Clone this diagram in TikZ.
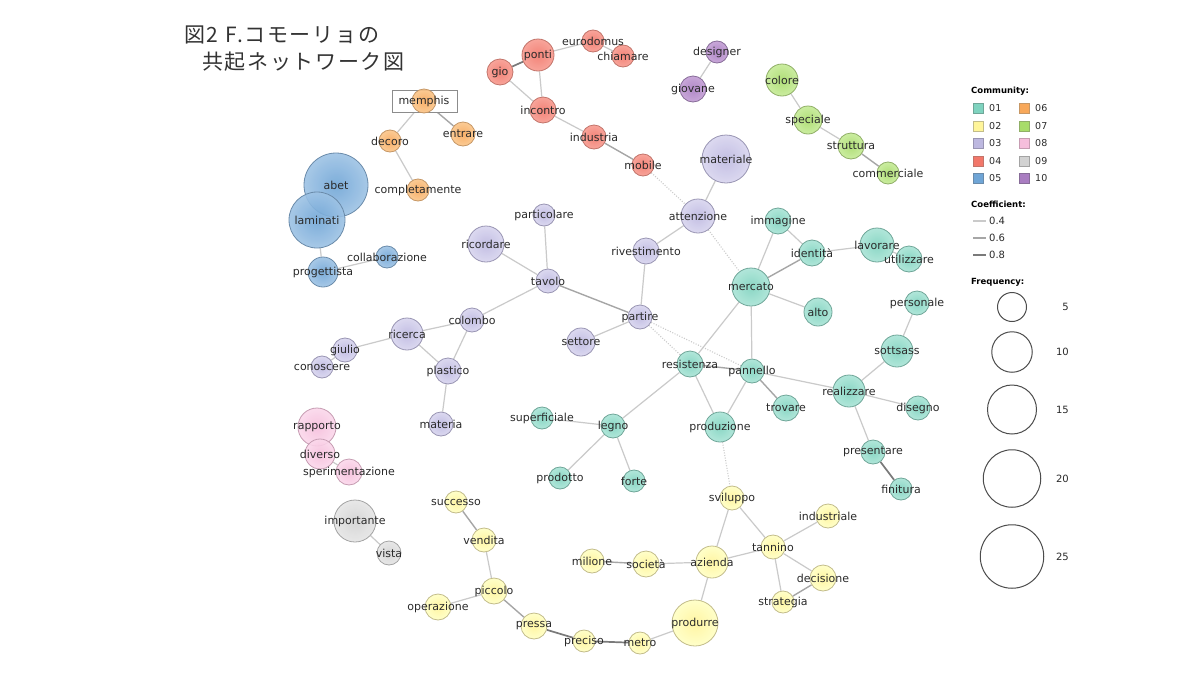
\documentclass[tikz,border=0pt]{standalone}
\usepackage{fontspec}
\setmainfont{DejaVu Sans}
\newfontfamily\jpfont{Noto Sans CJK JP}
\pgfdeclarelayer{bg}
\pgfdeclarelayer{fg}
\pgfsetlayers{bg,main,fg}
% community colours: inner, outer, border
\definecolor{i1}{HTML}{7FD3BF}\definecolor{o1}{HTML}{A9E4D6}\definecolor{b1}{HTML}{6FA698}
\definecolor{i2}{HTML}{FFF59A}\definecolor{o2}{HTML}{FFFFC4}\definecolor{b2}{HTML}{C2BC8A}
\definecolor{i3}{HTML}{BDB8E0}\definecolor{o3}{HTML}{D8D5EF}\definecolor{b3}{HTML}{9995B3}
\definecolor{i4}{HTML}{F2776A}\definecolor{o4}{HTML}{F89B90}\definecolor{b4}{HTML}{C2746A}
\definecolor{i5}{HTML}{6FA5D6}\definecolor{o5}{HTML}{9EC3E5}\definecolor{b5}{HTML}{6A8BAA}
\definecolor{i6}{HTML}{F8A85A}\definecolor{o6}{HTML}{FBC68A}\definecolor{b6}{HTML}{C69765}
\definecolor{i7}{HTML}{A8DC6A}\definecolor{o7}{HTML}{C6EB97}\definecolor{b7}{HTML}{90AF67}
\definecolor{i8}{HTML}{F6BEDC}\definecolor{o8}{HTML}{FBD8EB}\definecolor{b8}{HTML}{C69CB2}
\definecolor{i9}{HTML}{D2D2D2}\definecolor{o9}{HTML}{E6E6E6}\definecolor{b9}{HTML}{A3A3A3}
\definecolor{i10}{HTML}{A97DC1}\definecolor{o10}{HTML}{C39ED5}\definecolor{b10}{HTML}{876C98}
\definecolor{txt}{HTML}{2A2A2A}
\definecolor{ea}{HTML}{CACACA}
\definecolor{eb}{HTML}{A6A6A6}
\definecolor{ec}{HTML}{7A7A7A}
\tikzset{
  cn/.style={circle, inner sep=0pt, line width=0.8pt, fill opacity=0.9},
  c1/.style={draw=b1, inner color=i1, outer color=o1},
  c2/.style={draw=b2, inner color=i2, outer color=o2},
  c3/.style={draw=b3, inner color=i3, outer color=o3},
  c4/.style={draw=b4, inner color=i4, outer color=o4},
  c5/.style={draw=b5, inner color=i5, outer color=o5},
  c6/.style={draw=b6, inner color=i6, outer color=o6},
  c7/.style={draw=b7, inner color=i7, outer color=o7},
  c8/.style={draw=b8, inner color=i8, outer color=o8},
  c9/.style={draw=b9, inner color=i9, outer color=o9},
  c10/.style={draw=b10, inner color=i10, outer color=o10},
  lbl/.style={font=\fontsize{11}{12}\selectfont, text=txt, inner sep=0pt},
  e1/.style={draw=ea, line width=1.2pt},
  e2/.style={draw=eb, line width=1.4pt},
  e3/.style={draw=ec, line width=1.7pt},
  ed/.style={draw=ea, line width=1.1pt, dash pattern=on 1pt off 1.6pt},
  sq/.style={rectangle, minimum size=10pt, inner sep=0pt, line width=0.8pt},
  legtxt/.style={font=\fontsize{9.5}{11}\selectfont, text=txt, anchor=west, inner sep=0pt},
  leghead/.style={font=\bfseries\fontsize{8.5}{10}\selectfont, text=black, anchor=west, inner sep=0pt},
  fq/.style={circle, draw=black!70, line width=1pt, inner sep=0pt},
  ttl/.style={anchor=west, inner sep=0pt, text=black!80, font=\jpfont\fontsize{21}{24}\selectfont\addfontfeature{LetterSpace=8}},
}
\newcommand{\wn}[6]{%
  \node[cn,c#5,minimum size=#4*2pt] (#1) at (#2,#3) {};
  \begin{pgfonlayer}{fg}\node[lbl] (#1-t) at (#2,#3) {#6};\end{pgfonlayer}}
\begin{document}
\begin{tikzpicture}[x=1pt,y=-1pt]
\useasboundingbox (0,0) rectangle (1200,675);
\begin{pgfonlayer}{bg}
\fill[white] (0,0) rectangle (1200,675);
\end{pgfonlayer}

% title
\node[ttl] (title1) at (184,35) {図2\hspace{7pt}F.コモーリョの};
\node[ttl] (title2) at (202,62) {共起ネットワーク図};

% memphis box
\node[draw=black!45, fill=white, line width=1pt, minimum width=65pt, minimum height=22pt, inner sep=0pt] (memphisbox) at (425,101) {};

% community 06
\wn{memphis}{424}{101}{12}{6}{memphis}
\wn{entrare}{463}{134}{12}{6}{entrare}
\wn{decoro}{390}{141}{11}{6}{decoro}
\wn{completamente}{418}{190}{11}{6}{completamente}
% community 05
\wn{abet}{336}{185}{32}{5}{abet}
\wn{laminati}{317}{220}{28}{5}{laminati}
\wn{progettista}{323}{272}{15}{5}{progettista}
\wn{collaborazione}{387}{257}{11}{5}{collaborazione}
% community 04
\wn{ponti}{538}{55}{16}{4}{ponti}
\wn{gio}{500}{72}{13}{4}{gio}
\wn{eurodomus}{593}{41}{11}{4}{eurodomus}
\wn{chiamare}{623}{56}{11}{4}{chiamare}
\wn{incontro}{543}{110}{13}{4}{incontro}
\wn{industria}{594}{137}{12}{4}{industria}
\wn{mobile}{643}{165}{11}{4}{mobile}
% community 10
\wn{designer}{717}{52}{11}{10}{designer}
\wn{giovane}{693}{89}{13}{10}{giovane}
% community 07
\wn{colore}{782}{80}{16}{7}{colore}
\wn{speciale}{808}{120}{14}{7}{speciale}
\wn{struttura}{851}{146}{13}{7}{struttura}
\wn{commerciale}{888}{173}{11}{7}{commerciale}
% community 03
\wn{materiale}{726}{159}{24}{3}{materiale}
\wn{attenzione}{698}{216}{17}{3}{attenzione}
\wn{rivestimento}{646}{251}{13}{3}{rivestimento}
\wn{particolare}{544}{215}{11}{3}{particolare}
\wn{ricordare}{486}{244}{18}{3}{ricordare}
\wn{tavolo}{548}{281}{12}{3}{tavolo}
\wn{partire}{640}{317}{12}{3}{partire}
\wn{settore}{581}{342}{14}{3}{settore}
\wn{colombo}{472}{320}{12}{3}{colombo}
\wn{ricerca}{407}{334}{16}{3}{ricerca}
\wn{giulio}{345}{350}{12}{3}{giulio}
\wn{conoscere}{322}{367}{11}{3}{conoscere}
\wn{plastico}{448}{371}{13}{3}{plastico}
\wn{materia}{441}{424}{12}{3}{materia}
% community 01
\wn{mercato}{751}{287}{19}{1}{mercato}
\wn{immagine}{778}{221}{13}{1}{immagine}
\wn{identita}{812}{253}{13}{1}{identità}
\wn{lavorare}{877}{245}{17}{1}{lavorare}
\wn{utilizzare}{909}{259}{13}{1}{utilizzare}
\wn{alto}{818}{312}{14}{1}{alto}
\wn{personale}{917}{303}{12}{1}{personale}
\wn{sottsass}{897}{351}{16}{1}{sottsass}
\wn{realizzare}{849}{391}{16}{1}{realizzare}
\wn{disegno}{918}{408}{12}{1}{disegno}
\wn{presentare}{873}{452}{12}{1}{presentare}
\wn{finitura}{901}{489}{11}{1}{finitura}
\wn{resistenza}{690}{364}{13}{1}{resistenza}
\wn{pannello}{752}{371}{12}{1}{pannello}
\wn{trovare}{786}{408}{13}{1}{trovare}
\wn{produzione}{720}{427}{15}{1}{produzione}
\wn{legno}{613}{426}{12}{1}{legno}
\wn{superficiale}{542}{418}{11}{1}{superficiale}
\wn{prodotto}{560}{478}{11}{1}{prodotto}
\wn{forte}{634}{481}{11}{1}{forte}
% community 02
\wn{sviluppo}{732}{498}{12}{2}{sviluppo}
\wn{industriale}{828}{516}{12}{2}{industriale}
\wn{tannino}{773}{547}{12}{2}{tannino}
\wn{azienda}{712}{562}{16}{2}{azienda}
\wn{societa}{646}{564}{13}{2}{società}
\wn{milione}{592}{561}{12}{2}{milione}
\wn{decisione}{823}{578}{13}{2}{decisione}
\wn{strategia}{783}{602}{11}{2}{strategia}
\wn{produrre}{695}{623}{23}{2}{produrre}
\wn{metro}{640}{643}{11}{2}{metro}
\wn{preciso}{584}{641}{11}{2}{preciso}
\wn{pressa}{534}{626}{13}{2}{pressa}
\wn{piccolo}{494}{591}{13}{2}{piccolo}
\wn{operazione}{438}{607}{13}{2}{operazione}
\wn{vendita}{484}{540}{12}{2}{vendita}
\wn{successo}{456}{502}{11}{2}{successo}
% community 08
\wn{rapporto}{317}{427}{19}{8}{rapporto}
\wn{diverso}{320}{454}{15}{8}{diverso}
\wn{sperimentazione}{349}{472}{13}{8}{sperimentazione}
% community 09
\wn{importante}{355}{521}{21}{9}{importante}
\wn{vista}{389}{553}{12}{9}{vista}

% edges
\begin{pgfonlayer}{bg}
\draw[e3] (gio) -- (ponti);
\draw[e1] (ponti) -- (eurodomus);
\draw[e1] (eurodomus) -- (chiamare);
\draw[e1] (gio) -- (incontro);
\draw[e1] (ponti) -- (incontro);
\draw[e1] (incontro) -- (industria);
\draw[e2] (industria) -- (mobile);
\draw[e1] (memphis) -- (decoro);
\draw[e2] (memphis) -- (entrare);
\draw[e1] (decoro) -- (completamente);
\draw[e1] (abet) -- (laminati);
\draw[e1] (laminati) -- (progettista);
\draw[e1] (progettista) -- (collaborazione);
\draw[e1] (designer) -- (giovane);
\draw[e1] (colore) -- (speciale);
\draw[e1] (speciale) -- (struttura);
\draw[e2] (struttura) -- (commerciale);
\draw[e1] (materiale) -- (attenzione);
\draw[e1] (attenzione) -- (rivestimento);
\draw[e1] (rivestimento) -- (partire);
\draw[e1] (particolare) -- (tavolo);
\draw[e1] (ricordare) -- (tavolo);
\draw[e2] (tavolo) -- (partire);
\draw[e1] (tavolo) -- (colombo);
\draw[e1] (partire) -- (settore);
\draw[e1] (colombo) -- (ricerca);
\draw[e1] (colombo) -- (plastico);
\draw[e1] (ricerca) -- (plastico);
\draw[e1] (ricerca) -- (giulio);
\draw[e1] (giulio) -- (conoscere);
\draw[e1] (plastico) -- (materia);
\draw[ed] (mobile) -- (attenzione);
\draw[ed] (attenzione) -- (mercato);
\draw[ed] (partire) -- (resistenza);
\draw[ed] (partire) -- (pannello);
\draw[ed] (produzione) -- (sviluppo);
\draw[e1] (mercato) -- (immagine);
\draw[e1] (immagine) -- (identita);
\draw[e2] (mercato) -- (identita);
\draw[e1] (identita) -- (lavorare);
\draw[e1] (lavorare) -- (utilizzare);
\draw[e1] (mercato) -- (alto);
\draw[e1] (mercato) -- (resistenza);
\draw[e1] (mercato) -- (pannello);
\draw[e2] (resistenza) -- (pannello);
\draw[e1] (pannello) -- (realizzare);
\draw[e2] (pannello) -- (trovare);
\draw[e1] (pannello) -- (produzione);
\draw[e1] (resistenza) -- (produzione);
\draw[e1] (resistenza) -- (legno);
\draw[e1] (realizzare) -- (sottsass);
\draw[e1] (sottsass) -- (personale);
\draw[e1] (realizzare) -- (disegno);
\draw[e1] (realizzare) -- (presentare);
\draw[e3] (presentare) -- (finitura);
\draw[e1] (legno) -- (superficiale);
\draw[e1] (legno) -- (prodotto);
\draw[e1] (legno) -- (forte);
\draw[e1] (sviluppo) -- (azienda);
\draw[e1] (sviluppo) -- (tannino);
\draw[e1] (tannino) -- (industriale);
\draw[e1] (tannino) -- (azienda);
\draw[e1] (tannino) -- (decisione);
\draw[e1] (tannino) -- (strategia);
\draw[e2] (decisione) -- (strategia);
\draw[e1] (azienda) -- (societa);
\draw[e2] (societa) -- (milione);
\draw[e1] (azienda) -- (produrre);
\draw[e1] (produrre) -- (metro);
\draw[e3] (metro) -- (preciso);
\draw[e3] (preciso) -- (pressa);
\draw[e2] (pressa) -- (piccolo);
\draw[e1] (piccolo) -- (operazione);
\draw[e1] (piccolo) -- (vendita);
\draw[e2] (vendita) -- (successo);
\draw[e1] (rapporto) -- (diverso);
\draw[e1] (diverso) -- (sperimentazione);
\draw[e1] (importante) -- (vista);
\end{pgfonlayer}

% legend: community
\node[leghead] (lgc) at (971,91) {Community:};
\foreach \n/\c/\x/\y in {01/1/978/108, 02/2/978/126, 03/3/978/143, 04/4/978/161, 05/5/978/178,
                         06/6/1024/108, 07/7/1024/126, 08/8/1024/143, 09/9/1024/161, 10/10/1024/178}{
  \node[sq, fill=i\c, draw=b\c] (lq\n) at (\x,\y) {};
  \node[legtxt] (lt\n) at (\x+11,\y) {\n};
}
% legend: coefficient
\node[leghead] (lgk) at (971,204) {Coefficient:};
\coordinate (k4a) at (973,221); \coordinate (k4b) at (986,221);
\coordinate (k6a) at (973,238); \coordinate (k6b) at (986,238);
\coordinate (k8a) at (973,255); \coordinate (k8b) at (986,255);
\draw[draw=ea, line width=1.2pt] (k4a) -- (k4b);
\draw[draw=eb, line width=1.4pt] (k6a) -- (k6b);
\draw[draw=ec, line width=1.7pt] (k8a) -- (k8b);
\node[legtxt, font=\fontsize{10}{12}\selectfont] (lk4) at (989,221) {0.4};
\node[legtxt, font=\fontsize{10}{12}\selectfont] (lk6) at (989,238) {0.6};
\node[legtxt, font=\fontsize{10}{12}\selectfont] (lk8) at (989,255) {0.8};
% legend: frequency
\node[leghead] (lgf) at (971,282) {Frequency:};
\node[fq, minimum size=29pt] (f5) at (1012,307) {};
\node[fq, minimum size=40.5pt] (f10) at (1012,352) {};
\node[fq, minimum size=49pt] (f15) at (1012,409.5) {};
\node[fq, minimum size=57.5pt] (f20) at (1012,478.5) {};
\node[fq, minimum size=63.5pt] (f25) at (1012,556.5) {};
\foreach \v/\y in {5/307, 10/352, 15/409.5, 20/478.5, 25/556.5}{
  \node[legtxt, anchor=east, font=\fontsize{10}{12}\selectfont] (fl\v) at (1069,\y) {\v};
}
\end{tikzpicture}
\end{document}
